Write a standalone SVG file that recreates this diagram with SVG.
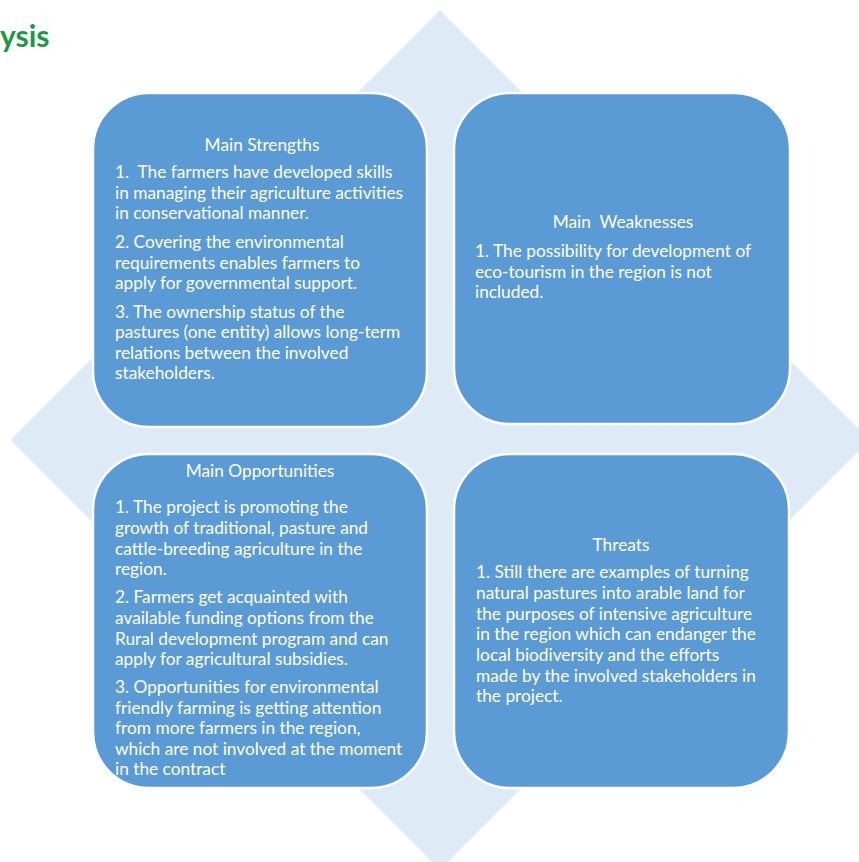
<svg xmlns="http://www.w3.org/2000/svg" width="859" height="862" viewBox="0 0 859 862">
<style>
.box{fill:#5B9BD5;stroke:#FFFFFF;stroke-width:2.5}
.t{font-family:Lato,"Liberation Sans",sans-serif;font-size:17.3px;fill:#FFFFFF}
.h{text-anchor:middle}
</style>
<rect width="859" height="862" fill="#FFFFFF"/>
<text x="0" y="47" font-family="Lato,'Liberation Sans',sans-serif" font-weight="bold" font-size="30" fill="#1A9A44">ysis</text>
<polygon points="440,10 870,440 440,870 10,440" fill="#DEEAF6"/>
<g id="strengths">
<rect class="box" x="93" y="93" width="334" height="334" rx="56"/>
<text class="t h" x="262" y="151">Main Strengths</text>
<text class="t" x="115" y="178" xml:space="preserve">1.  The farmers have developed skills</text>
<text class="t" x="115" y="199">in managing their agriculture activities</text>
<text class="t" x="115" y="219">in conservational manner.</text>
<text class="t" x="115" y="248">2. Covering the environmental</text>
<text class="t" x="115" y="269">requirements enables farmers to</text>
<text class="t" x="115" y="289">apply for governmental support.</text>
<text class="t" x="115" y="318">3. The ownership status of the</text>
<text class="t" x="115" y="338">pastures (one entity) allows long-term</text>
<text class="t" x="115" y="359">relations between the involved</text>
<text class="t" x="115" y="379">stakeholders.</text>
</g>
<g id="weaknesses">
<rect class="box" x="454" y="93" width="336" height="331" rx="56"/>
<text class="t h" x="623" y="228" xml:space="preserve">Main  Weaknesses</text>
<text class="t" x="475" y="257">1. The possibility for development of</text>
<text class="t" x="475" y="278">eco-tourism in the region is not</text>
<text class="t" x="475" y="298">included.</text>
</g>
<g id="opportunities">
<rect class="box" x="93" y="454" width="334" height="334" rx="56"/>
<text class="t h" x="260" y="477">Main Opportunities</text>
<text class="t" x="115" y="513">1. The project is promoting the</text>
<text class="t" x="115" y="534">growth of traditional, pasture and</text>
<text class="t" x="115" y="555">cattle-breeding agriculture in the</text>
<text class="t" x="115" y="575">region.</text>
<text class="t" x="115" y="603">2. Farmers get acquainted with</text>
<text class="t" x="115" y="624">available funding options from the</text>
<text class="t" x="115" y="645">Rural development program and can</text>
<text class="t" x="115" y="665">apply for agricultural subsidies.</text>
<text class="t" x="115" y="693">3. Opportunities for environmental</text>
<text class="t" x="115" y="714">friendly farming is getting attention</text>
<text class="t" x="115" y="734">from more farmers in the region,</text>
<text class="t" x="115" y="755">which are not involved at the moment</text>
<text class="t" x="115" y="775">in the contract</text>
</g>
<g id="threats">
<rect class="box" x="454" y="454" width="335" height="334" rx="56"/>
<text class="t h" x="621" y="551">Threats</text>
<text class="t" x="476" y="578">1. Still there are examples of turning</text>
<text class="t" x="476" y="599">natural pastures into arable land for</text>
<text class="t" x="476" y="620">the purposes of intensive agriculture</text>
<text class="t" x="476" y="640">in the region which can endanger the</text>
<text class="t" x="476" y="661">local biodiversity and the efforts</text>
<text class="t" x="476" y="682">made by the involved stakeholders in</text>
<text class="t" x="476" y="702">the project.</text>
</g>
<g id="connectors"/>
</svg>
